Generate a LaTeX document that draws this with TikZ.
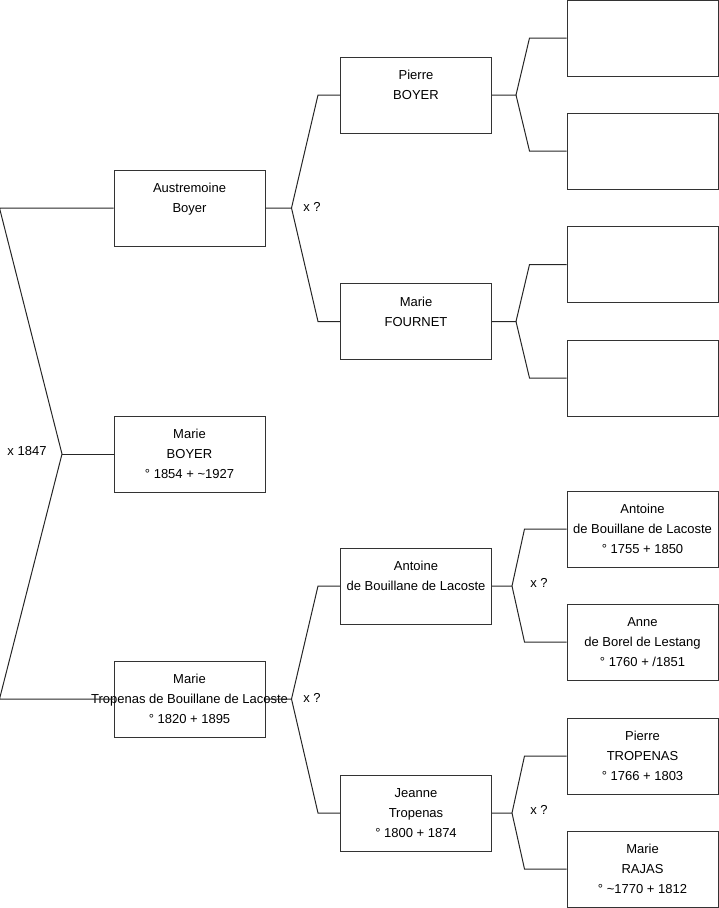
\documentclass[tikz,border=0pt]{standalone}
\usepackage{fontspec}
\setmainfont{Liberation Sans}
\usetikzlibrary{positioning}

\begin{document}
\begin{tikzpicture}[
  x=1pt, y=-1pt,
  person/.style={draw=black!80, line width=1pt, minimum width=151pt,
                 minimum height=76pt, inner sep=0pt, align=center,
                 font=\fontsize{13}{20}\selectfont},
  link/.style={draw=black!85, line width=1pt},
  marr/.style={font=\fontsize{13}{20}\selectfont},
]
\useasboundingbox (0,0) rectangle (719,908);

% Generation 1
\node[person] (austremoine) at (189.5,208) {Austremoine\\Boyer\\\mbox{}};
\node[person] (marieB) at (189.5,454) {Marie\\BOYER\\° 1854 + \textasciitilde1927};
\node[person] (marieT) at (189.5,699)
  {Marie\\\makebox[0pt]{Tropenas de Bouillane de Lacoste}\\° 1820 + 1895};

% Generation 2
\node[person] (pierreB) at (416,95) {Pierre\\BOYER\\\mbox{}};
\node[person] (marieF) at (416,321.5) {Marie\\FOURNET\\\mbox{}};
\node[person] (antoineL) at (416,586) {Antoine\\de Bouillane de Lacoste\\\mbox{}};
\node[person] (jeanneT) at (416,813) {Jeanne\\Tropenas\\° 1800 + 1874};

% Generation 3 - unknown
\foreach \n/\y in {r1/38,r2/151,r3/264.5,r4/378} {
  \node[person] (\n) at (642.5,\y) {};
}

% Generation 3 - known
\node[person] (r5) at (642.5,529) {Antoine\\de Bouillane de Lacoste\\° 1755 + 1850};
\node[person] (r6) at (642.5,642) {Anne\\de Borel de Lestang\\° 1760 + /1851};
\node[person] (r7) at (642.5,756) {Pierre\\TROPENAS\\° 1766 + 1803};
\node[person] (r8) at (642.5,869) {Marie\\RAJAS\\° \textasciitilde1770 + 1812};

% Marriage brackets, first level
\coordinate (j0) at (62,454);
\draw[link] (austremoine.west) -- ([xshift=-114pt]austremoine.west) -- (j0)
  -- ([xshift=-114pt]marieT.west) -- (marieT.west);
\draw[link] (j0) -- (marieB.west);
\node[marr] (m0) at (27,451) {x 1847};

% Second level
\draw[link] (austremoine.east) -- ++(26,0) coordinate (j1)
  -- ([xshift=-22pt]pierreB.west) -- (pierreB.west);
\draw[link] (j1) -- ([xshift=-22pt]marieF.west) -- (marieF.west);
\node[marr] (m1) at (312,207) {x ?};

\draw[link] (marieT.east) -- ++(26,0) coordinate (j2)
  -- ([xshift=-22pt]antoineL.west) -- (antoineL.west);
\draw[link] (j2) -- ([xshift=-22pt]jeanneT.west) -- (jeanneT.west);
\node[marr] (m2) at (312,698) {x ?};

% Third level
\foreach \p/\a/\b/\dj/\db in {pierreB/r1/r2/24/37, marieF/r3/r4/24/37,
                              antoineL/r5/r6/20/42, jeanneT/r7/r8/20/42} {
  \draw[link] (\p.east) -- ++(\dj,0) coordinate (j\p)
    -- ([xshift=-\db pt]\a.west) -- (\a.west);
  \draw[link] (j\p) -- ([xshift=-\db pt]\b.west) -- (\b.west);
}
\node[marr] (m3) at (539,583) {x ?};
\node[marr] (m4) at (539,810) {x ?};

\end{tikzpicture}
\end{document}
